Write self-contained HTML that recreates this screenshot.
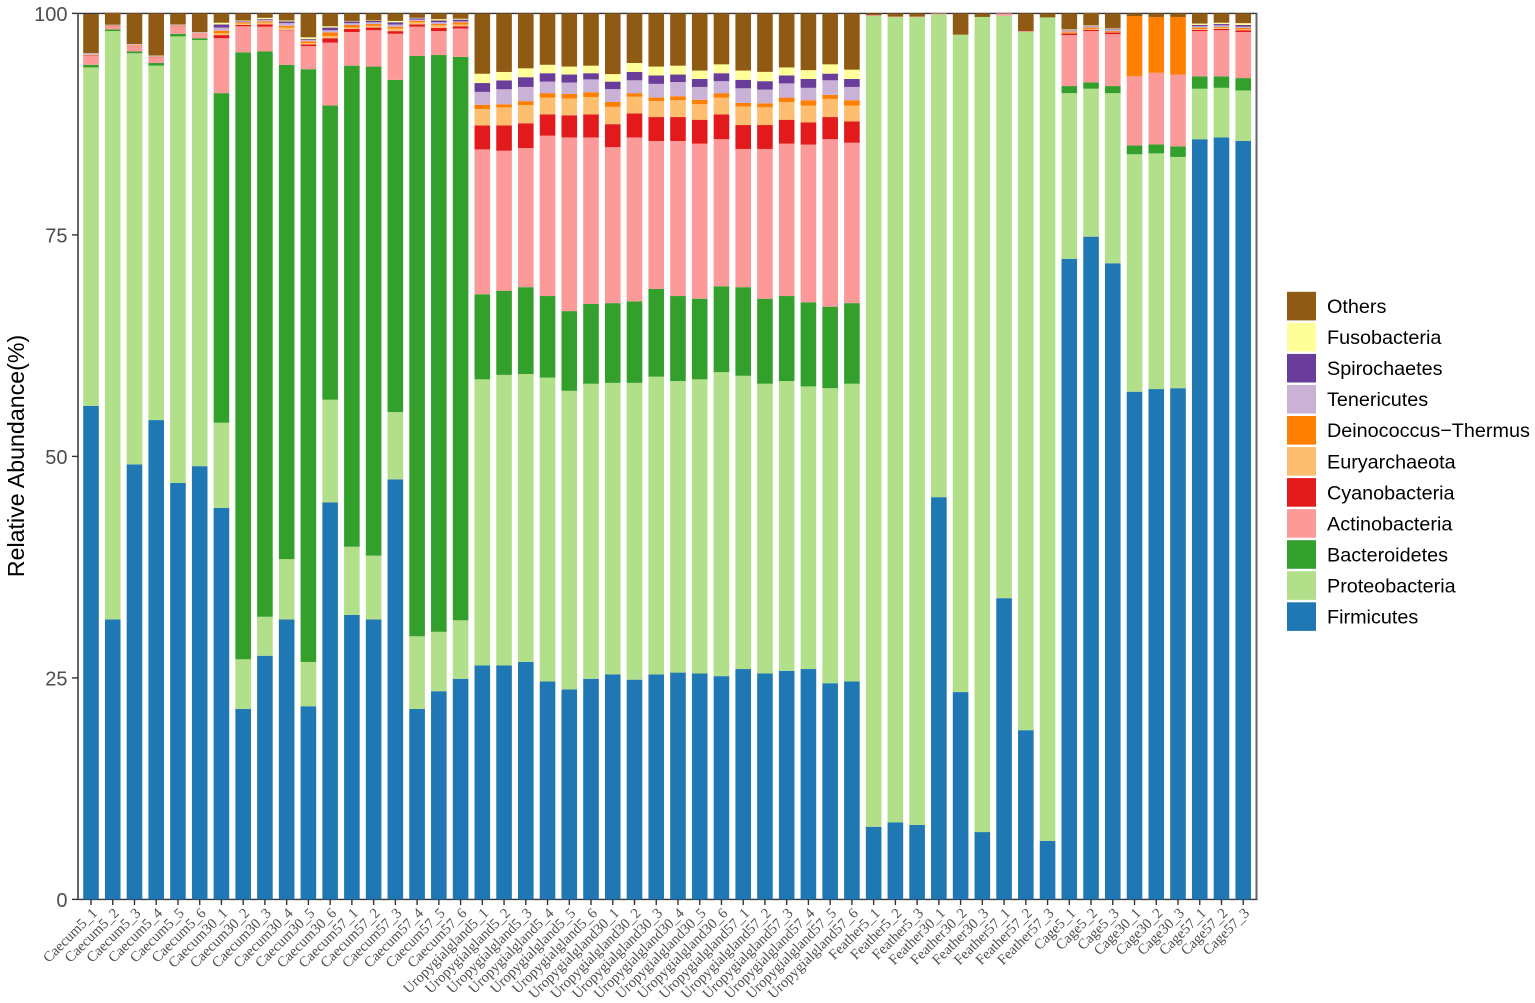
<!DOCTYPE html>
<html>
<head>
<meta charset="utf-8">
<title>Relative abundance stacked bar chart</title>
<style>
html,body{margin:0;padding:0;background:#fff;}
svg{display:block;}
text{font-family:"Liberation Sans",sans-serif;}
</style>
</head>
<body>
<svg id="chart" width="1535" height="1003" viewBox="0 0 1535 1003" xmlns="http://www.w3.org/2000/svg"></svg>
<script>
const sampleLabels = ["Caecum5_1","Caecum5_2","Caecum5_3","Caecum5_4","Caecum5_5","Caecum5_6","Caecum30_1","Caecum30_2","Caecum30_3","Caecum30_4","Caecum30_5","Caecum30_6","Caecum57_1","Caecum57_2","Caecum57_3","Caecum57_4","Caecum57_5","Caecum57_6","Uropygialgland5_1","Uropygialgland5_2","Uropygialgland5_3","Uropygialgland5_4","Uropygialgland5_5","Uropygialgland5_6","Uropygialgland30_1","Uropygialgland30_2","Uropygialgland30_3","Uropygialgland30_4","Uropygialgland30_5","Uropygialgland30_6","Uropygialgland57_1","Uropygialgland57_2","Uropygialgland57_3","Uropygialgland57_4","Uropygialgland57_5","Uropygialgland57_6","Feather5_1","Feather5_2","Feather5_3","Feather30_1","Feather30_2","Feather30_3","Feather57_1","Feather57_2","Feather57_3","Cage5_1","Cage5_2","Cage5_3","Cage30_1","Cage30_2","Cage30_3","Cage57_1","Cage57_2","Cage57_3"];
const yTickValues = [0,25,50,75,100];
const firmicutes = [55.7,31.6,49.1,54.1,47,48.9,44.2,21.5,27.5,31.6,21.8,44.8,32.1,31.6,47.4,21.5,23.5,24.9,26.4,26.4,26.8,24.6,23.7,24.9,25.4,24.8,25.4,25.6,25.5,25.2,26,25.5,25.8,26,24.4,24.6,8.2,8.7,8.4,45.4,23.4,7.6,34,19.1,6.6,72.3,74.8,71.8,57.3,57.6,57.7,85.8,86,85.6];
const proteobacteria = [38.2,66.4,46.4,40,50.4,48.1,9.6,5.6,4.4,6.8,5,11.6,7.7,7.2,7.6,8.2,6.7,6.6,32.3,32.8,32.5,34.3,33.7,33.3,32.9,33.5,33.6,32.9,33.2,34.3,33.1,32.7,32.7,31.9,33.3,33.6,91.5,90.9,91.2,54.5,74.2,92,65.75,78.8,92.95,18.7,16.7,19.2,26.8,26.6,26.1,5.7,5.6,5.7];
const bacteroidetes = [0.3,0.2,0.2,0.3,0.3,0.2,37.2,68.5,63.8,55.8,66.9,33.2,54.3,55.2,37.5,65.5,65.1,63.6,9.6,9.5,9.8,9.2,9,9,9,9.2,9.9,9.6,9.1,9.7,10,9.6,9.6,9.5,9.2,9.1,0,0,0,0,0,0,0,0,0,0.8,0.7,0.8,1,1,1.2,1.4,1.3,1.4];
const actinobacteria = [1,0.3,0.6,0.6,0.8,0.5,6.2,2.95,2.8,3.9,2.6,7.1,3.8,4.1,5.2,3.3,2.7,3.2,16.35,15.8,15.7,18.1,19.6,18.8,17.6,18.5,16.7,17.5,17.5,16.6,15.6,16.9,17.2,17.8,18.9,18.1,0.1,0.05,0.05,0.1,0,0,0.25,0.1,0,5.75,5.8,5.85,7.8,8.1,8.1,5.1,5.2,5.2];
const cyanobacteria = [0.05,0.05,0.05,0.05,0.05,0.02,0.35,0.15,0.25,0.05,0.2,0.5,0.35,0.3,0.3,0.25,0.35,0.25,2.7,2.85,2.8,2.4,2.5,2.6,2.6,2.7,2.7,2.7,2.7,2.8,2.7,2.7,2.7,2.5,2.5,2.4,0,0,0,0,0,0,0,0,0,0.2,0.15,0.2,0,0,0,0.15,0.15,0.2];
const euryarchaeota = [0.05,0.05,0.05,0.05,0.05,0.03,0.2,0.15,0.2,0.25,0.15,0.25,0.15,0.2,0.3,0.25,0.3,0.2,1.84,2.04,2.05,1.9,1.9,1.95,1.95,1.9,1.8,1.9,1.75,1.9,2.1,2,2,1.9,2.05,1.8,0,0,0,0,0,0,0,0,0,0.1,0.1,0.05,0,0,0,0.1,0.1,0.1];
const deinococcusThermus = [0.03,0.03,0.03,0.03,0.03,0.03,0.3,0.15,0.15,0.2,0.2,0.4,0.3,0.2,0.2,0.15,0.15,0.25,0.5,0.35,0.45,0.5,0.5,0.55,0.55,0.4,0.4,0.45,0.5,0.5,0.4,0.45,0.5,0.6,0.45,0.6,0,0,0,0,0,0,0,0,0,0.1,0.15,0.1,6.8,6.3,6.5,0.15,0.1,0.15];
const tenericutes = [0.12,0.03,0.05,0.05,0.05,0.05,0.35,0.1,0.15,0.3,0.15,0.25,0.2,0.2,0.25,0.15,0.2,0.1,1.45,1.7,1.6,1.3,1.3,1.45,1.45,1.45,1.55,1.6,1.45,1.35,1.65,1.55,1.6,1.4,1.65,1.5,0,0,0,0,0,0,0,0,0,0.15,0.15,0.2,0,0,0,0.15,0.2,0.15];
const spirochaetes = [0.05,0.03,0.04,0.04,0.04,0.04,0.35,0.05,0.1,0.2,0.1,0.3,0.2,0.15,0.25,0.15,0.2,0.2,1,1,1.1,0.95,0.9,0.7,0.85,0.95,0.95,0.85,0.9,0.9,0.95,0.95,0.9,1,0.75,0.9,0,0,0,0,0,0,0,0,0,0.05,0.05,0.05,0,0,0,0.15,0.15,0.2];
const fusobacteria = [0.03,0.03,0.03,0.03,0.03,0.03,0.2,0.05,0.15,0.1,0.2,0.15,0.05,0.05,0.15,0.05,0.15,0.1,1.05,0.95,1,0.95,0.9,0.85,0.85,1,1,1,0.95,1,1.05,1.05,0.9,1,1.05,1.05,0,0,0,0,0,0,0,0,0,0.05,0.05,0.05,0,0,0,0.15,0.15,0.2];
const others = [4.4,1.35,3.45,4.75,1.25,2.1,1.05,0.8,0.5,0.8,2.7,1.45,0.85,0.8,0.85,0.5,0.65,0.6,6.8,6.6,6.2,5.8,6,5.9,6.85,5.6,6,5.9,6.45,5.75,6.45,6.6,6.1,6.4,5.75,6.35,0.2,0.35,0.35,0,2.4,0.4,0,2,0.45,1.8,1.4,1.7,0.3,0.4,0.4,1.15,1.05,1.1];

const stackOrder = [
  ["Firmicutes", firmicutes, "#1f78b4"],
  ["Proteobacteria", proteobacteria, "#b2df8a"],
  ["Bacteroidetes", bacteroidetes, "#33a02c"],
  ["Actinobacteria", actinobacteria, "#fb9a99"],
  ["Cyanobacteria", cyanobacteria, "#e31a1c"],
  ["Euryarchaeota", euryarchaeota, "#fdbf6f"],
  ["Deinococcus\u2212Thermus", deinococcusThermus, "#ff7f00"],
  ["Tenericutes", tenericutes, "#cab2d6"],
  ["Spirochaetes", spirochaetes, "#6a3d9a"],
  ["Fusobacteria", fusobacteria, "#ffff99"],
  ["Others", others, "#8f5a14"]
];

const NS = "http://www.w3.org/2000/svg";
const svg = document.getElementById("chart");
const plotLeft = 78, plotRight = 1256.5, plotTop = 13.4, plotBottom = 899.4;
const firstTick = 91, tickStep = 21.74, barWidth = 15.6;
function xScale(i){ return firstTick + i * tickStep; }
function yScale(v){ return plotBottom - (v / 100) * (plotBottom - plotTop); }
function make(tag, attrs, parent){
  const el = document.createElementNS(NS, tag);
  for (const k in attrs) el.setAttribute(k, attrs[k]);
  (parent || svg).appendChild(el);
  return el;
}
function slug(s){ return s.toLowerCase().replace(/[^a-z0-9]+/g, "-"); }

// panel border
const panel = make("g", {});


make("line", {x1: plotLeft, x2: plotRight + 1, y1: plotTop, y2: plotTop, stroke: "#333", "stroke-width": 1.4}, panel);
make("line", {x1: plotLeft, x2: plotRight + 1, y1: plotBottom, y2: plotBottom, stroke: "#333", "stroke-width": 1.4}, panel);
make("line", {x1: plotLeft, x2: plotLeft, y1: plotTop, y2: plotBottom, stroke: "#666", "stroke-width": 2}, panel);
make("line", {x1: plotRight, x2: plotRight, y1: plotTop, y2: plotBottom, stroke: "#666", "stroke-width": 2}, panel);

// bars
sampleLabels.forEach(function(label, i){
  let cum = 0;
  const group = make("g", {});
  
  
  stackOrder.forEach(function(s){
    const v = s[1][i];
    const y1 = yScale(cum);
    const y2 = yScale(cum + v);
    cum += v;
    if (v <= 0) return;
    const r = make("rect", {x: xScale(i) - barWidth / 2, y: y2, width: barWidth, height: y1 - y2, fill: s[2]}, group);
    
    
  });
});

// y axis
yTickValues.forEach(function(v){
  const y = yScale(v);
  const t = make("line", {x1: 72, x2: 78, y1: y, y2: y, stroke: "#333", "stroke-width": 1.4});
  
  
  const l = make("text", {x: 67.5, y: y + 7.4, "text-anchor": "end", "font-size": 20, fill: "#4d4d4d"});
  l.textContent = v;
  
  
});

// x axis
sampleLabels.forEach(function(label, i){
  const x = xScale(i);
  const t = make("line", {x1: x, x2: x, y1: plotBottom, y2: 905, stroke: "#333", "stroke-width": 1.4});
  
  
  const ax = x + 7, ay = 914;
  const l = make("text", {x: ax, y: ay, "text-anchor": "end", "font-size": 14.6, fill: "#4d4d4d", transform: "rotate(-45 " + ax + " " + ay + ")"});
  l.style.fontFamily = '"Liberation Serif",serif';
  l.textContent = label;
  
  
});

// y axis title
const yTitle = make("text", {x: 0, y: 0, "text-anchor": "middle", "font-size": 23.2, fill: "#000", transform: "translate(24 456) rotate(-90)"});
yTitle.textContent = "Relative Abundance(%)";



// legend
const legend = make("g", {});


stackOrder.slice().reverse().forEach(function(s, i){
  const y = 291.8 + i * 31.05;
  const entry = make("g", {}, legend);
  
  
  make("rect", {x: 1287, y: y, width: 29, height: 28.6, fill: s[2]}, entry);
  const l = make("text", {x: 1327, y: y + 21.2, "font-size": 19.8, fill: "#000"}, entry);
  l.textContent = s[0];
});
</script>
</body>
</html>
